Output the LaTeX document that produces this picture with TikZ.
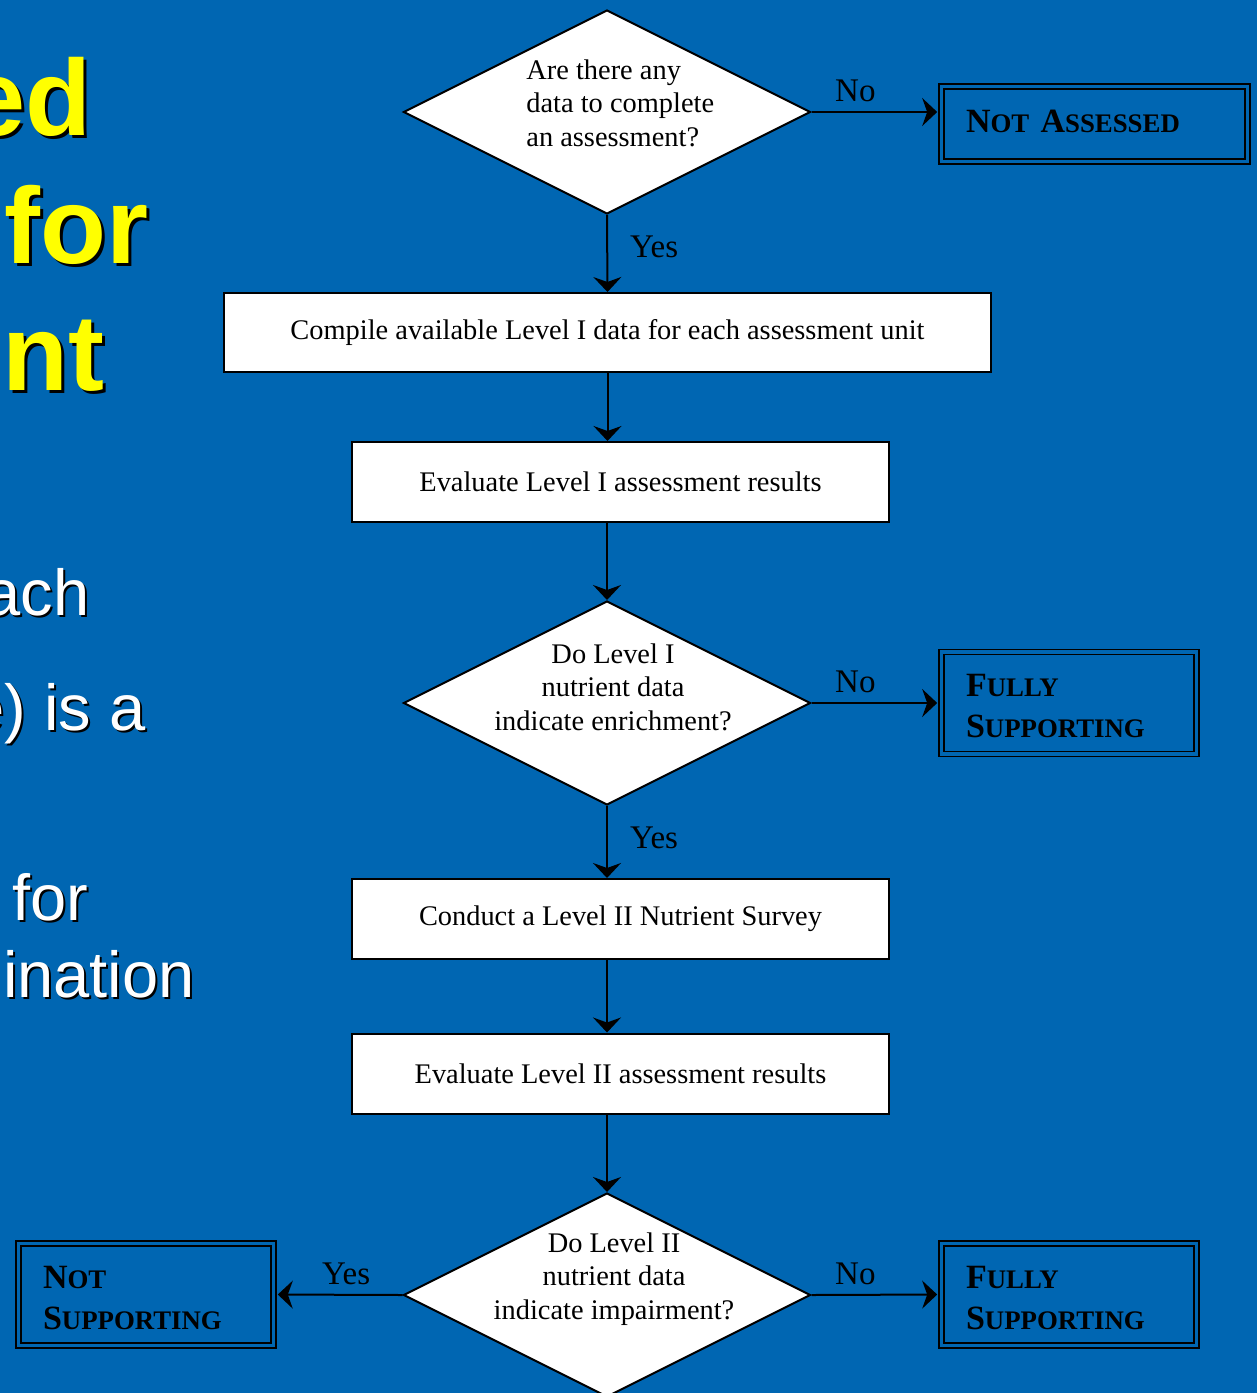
\documentclass[tikz,border=0pt]{standalone}
\usepackage{fontspec}
\setmainfont{Liberation Serif}
\newfontfamily\arialfont{Liberation Sans}
\usetikzlibrary{shapes.geometric, arrows.meta, positioning}

\definecolor{slideblue}{RGB}{0,102,178}
\definecolor{titleyellow}{RGB}{255,255,0}
% capital + smaller capitals, for the outcome boxes
\newcommand{\fakesc}[2]{{\fontsize{17}{20.5}\selectfont #1}{\fontsize{13.4}{20.5}\selectfont #2}}

\begin{document}
\begin{tikzpicture}[x=0.5pt, y=-0.5pt,
  box/.style={draw, line width=1pt, fill=white, inner sep=0pt, font=\fontsize{14.2}{16.8}\selectfont},
  decision/.style={diamond, draw, line width=1pt, fill=white, inner sep=0pt, minimum width=203.5pt, minimum height=102pt},
  qtext/.style={font=\fontsize{14.2}{16.75}\selectfont, inner sep=0pt},
  outcome/.style={draw, line width=0.9pt, double=slideblue, double distance=1.6pt, inner xsep=12.25pt, inner ysep=0pt, align=left, font=\bfseries\fontsize{17}{20.5}\selectfont},
  lbl/.style={font=\fontsize{16.5}{18}\selectfont, inner sep=0pt},
  arr/.style={line width=1pt, -{Stealth[length=7.5pt, width=14pt, inset=2.5pt]}},
  ttl/.style={font=\arialfont\bfseries\fontsize{54}{60}\selectfont, text=titleyellow, anchor=base east, inner sep=0pt},
  body/.style={font=\arialfont\fontsize{32.5}{38}\selectfont, text=white, anchor=base east, inner sep=0pt}]

\useasboundingbox (0,0) rectangle (1257,1393);
\fill[slideblue] (0,0) rectangle (1257,1393);
\clip (0,0) rectangle (1257,1393);

% slide text cut off at the left
\foreach \tx/\ty/\txt [count=\i] in {92/135/ed, 149/263/for, 105/390/nt} {
  \node[ttl, text=black, xshift=1.5pt, yshift=-1.5pt] (ttlshadow\i) at (\tx,\ty) {\txt};
  \node[ttl] (ttl\i) at (\tx,\ty) {\txt};
}
\foreach \tx/\ty/\txt [count=\i] in {90/615/ach, 146/730/e) is a, 89/920/for, 195/997/mination} {
  \node[body, text=black, xshift=1pt, yshift=-1pt] (bodyshadow\i) at (\tx,\ty) {\txt};
  \node[body] (body\i) at (\tx,\ty) {\txt};
}

% decisions
\node[decision] (q1) at (607,112) {};
\node[qtext, align=left, anchor=west] (q1t) at (526,103) {Are there any\\data to complete\\an assessment?};
\node[decision] (q2) at (607,703) {};
\node[qtext, align=center] (q2t) at (613,687) {Do Level I\\nutrient data\\indicate enrichment?};
\node[decision] (q3) at (607,1295) {};
\node[qtext, align=center] (q3t) at (614,1279) {Do Level II\\nutrient data\\indicate impairment?};

% process boxes
\node[box, minimum width=383.5pt, minimum height=39.5pt] (b1) at (607.5,332.5) {Compile available Level I data for each assessment unit};
\node[box, minimum width=268.5pt, minimum height=40pt] (b2) at (620.5,482) {Evaluate Level I assessment results};
\node[box, minimum width=268.5pt, minimum height=40pt] (b3) at (620.5,919) {Conduct a Level II Nutrient Survey};
\node[box, minimum width=268.5pt, minimum height=40pt] (b4) at (620.5,1073.5) {Evaluate Level II assessment results};

% outcomes
\node[outcome, text width=128.5pt, minimum height=37.5pt] (na) at (1094.5,124) {\fakesc{N}{OT} \fakesc{A}{SSESSED}\rule[-3pt]{0pt}{1pt}};
\node[outcome, text width=103pt, minimum height=51pt] (fs1) at (1069,703) {\rule{0pt}{14.5pt}\fakesc{F}{ULLY}\\\fakesc{S}{UPPORTING}};
\node[outcome, text width=103pt, minimum height=51pt] (fs2) at (1069,1294.5) {\rule{0pt}{14.5pt}\fakesc{F}{ULLY}\\\fakesc{S}{UPPORTING}};
\node[outcome, text width=103pt, minimum height=51pt] (ns) at (146,1294.5) {\rule{0pt}{14.5pt}\fakesc{N}{OT}\\\fakesc{S}{UPPORTING}};

% connectors
\draw[arr, shorten >=1.7pt] (q1.east) -- node[lbl, pos=0.34, above=4.5pt] (no1) {No} (q1.east -| na.west);
\draw[arr] (q1.south) -- node[lbl, pos=0.42, right=11pt] (yes1) {Yes} (b1.north);
\draw[arr] (b1.south) -- (b1.south |- b2.north);
\draw[arr] (b2.south -| q2.north) -- (q2.north);
\draw[arr, shorten >=1.7pt] (q2.east) -- node[lbl, pos=0.34, above=4.5pt] (no2) {No} (fs1.west);
\draw[arr] (q2.south) -- node[lbl, pos=0.44, right=11pt] (yes2) {Yes} (q2.south |- b3.north);
\draw[arr] (b3.south -| q2.south) -- (q2.south |- b4.north);
\draw[arr] (b4.south -| q3.north) -- (q3.north);
\draw[arr, shorten >=1.7pt] (q3.east) -- node[lbl, pos=0.34, above=4.5pt] (no3) {No} (fs2.west);
\draw[arr, shorten >=1.7pt] (q3.west) -- node[lbl, pos=0.44, above=4.5pt] (yes3) {Yes} (ns.east);
\end{tikzpicture}
\end{document}
